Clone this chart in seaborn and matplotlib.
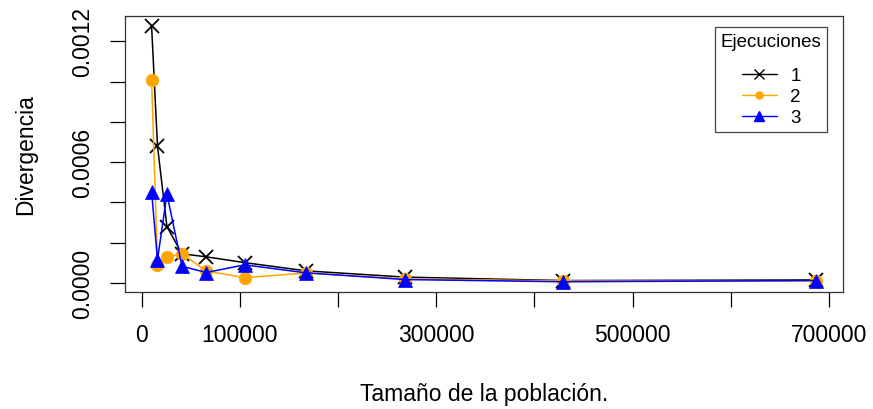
import numpy as np
import pandas as pd
import seaborn as sns
import matplotlib
matplotlib.use("Agg")
import matplotlib.pyplot as plt
from matplotlib.lines import Line2D

# population sizes (x axis)
poblacion = [10000, 16000, 25600, 40960, 65536, 104858, 167772, 268435, 429497, 687195]

# divergence per run
ejec_1 = [0.001275, 0.000680, 0.000280, 0.000145, 0.000130, 0.000101, 0.000060, 0.000029, 0.000012, 0.000015]
ejec_2 = [0.001010, 0.000090, 0.000128, 0.000145, 0.000060, 0.000026, 0.000050, 0.000020, 0.000010, 0.000010]
ejec_3 = [0.000452, 0.000115, 0.000442, 0.000083, 0.000052, 0.000090, 0.000050, 0.000017, 0.000006, 0.000012]

SERIES = ["1", "2", "3"]
COLORS = {"1": "black", "2": "orange", "3": "blue"}
MARKERS = {"1": "x", "2": "o", "3": "^"}
MSIZE = {"1": 10, "2": 9, "3": 10}

x_ticks = [0, 100000, 200000, 300000, 400000, 500000, 600000, 700000]
x_labels = ["0", "100000", "", "300000", "", "500000", "", "700000"]
y_ticks = [0, 0.0002, 0.0004, 0.0006, 0.0008, 0.0010, 0.0012]
y_labels = ["0.0000", "", "", "0.0006", "", "", "0.0012"]

rows = []
for name, vals in zip(SERIES, [ejec_1, ejec_2, ejec_3]):
    for p, v in zip(poblacion, vals):
        rows.append({"poblacion": p, "divergencia": v, "ejecucion": name})
df = pd.DataFrame(rows)

sns.set_style("white")
plt.rcParams["font.family"] = ["Liberation Sans", "DejaVu Sans"]
plt.rcParams["text.color"] = "black"
plt.rcParams["axes.labelcolor"] = "black"
plt.rcParams["xtick.color"] = "black"
plt.rcParams["ytick.color"] = "black"

fig = plt.figure(figsize=(8.73, 4.10), dpi=100)
ax = fig.add_axes([0.1432, 0.2854, 0.8224, 0.6731])

for name in SERIES:
    sub = df[df.ejecucion == name]
    sns.lineplot(
        x="poblacion", y="divergencia", data=sub,
        color=COLORS[name], marker=MARKERS[name], markersize=MSIZE[name],
        markeredgecolor=COLORS[name], markeredgewidth=1.3 if name == "1" else 0.5,
        linewidth=1.1, ax=ax, legend=False,
    )

# R-style 4% padding around the data range
xmin, xmax = min(poblacion), max(poblacion)
allv = ejec_1 + ejec_2 + ejec_3
ymin, ymax = min(allv), max(allv)
ax.set_xlim(xmin - 0.04 * (xmax - xmin), xmax + 0.04 * (xmax - xmin))
ax.set_ylim(ymin - 0.04 * (ymax - ymin), ymax + 0.04 * (ymax - ymin))

ax.set_xticks(x_ticks)
ax.set_xticklabels(x_labels, fontsize=16.5)
ax.set_yticks(y_ticks)
ax.set_yticklabels(y_labels, fontsize=16.5, rotation=90, va="center")
ax.tick_params(axis="both", direction="out", length=10.5, width=0.9,
               bottom=True, left=True, pad=12)
ax.tick_params(axis="x", pad=12)

for s in ax.spines.values():
    s.set_visible(True)
    s.set_color("#333333")
    s.set_linewidth(0.9)

ax.set_xlabel("Tamaño de la población.", fontsize=16.5, labelpad=26)
ax.set_ylabel("Divergencia", fontsize=16.5, labelpad=24)

handles = [
    Line2D([], [], color="black", marker="x", markersize=7, markeredgewidth=1.0, linewidth=1),
    Line2D([], [], color="orange", marker="o", markersize=5, markeredgecolor="orange", linewidth=1),
    Line2D([], [], color="blue", marker="^", markersize=7, markeredgecolor="blue", linewidth=1),
]
leg = ax.legend(handles, SERIES, title="Ejecuciones", loc="upper right",
                bbox_to_anchor=(0.978, 0.960), borderaxespad=0,
                fontsize=13.5, title_fontsize=13.5,
                fancybox=False, framealpha=1, edgecolor="#444444",
                handlelength=1.9, labelspacing=0.2, borderpad=0.3, handletextpad=0.7)
leg.get_frame().set_linewidth(0.9)
leg._legend_box.sep = 13.5 * 0.2 + 10

fig.savefig("out.png", dpi=100)
